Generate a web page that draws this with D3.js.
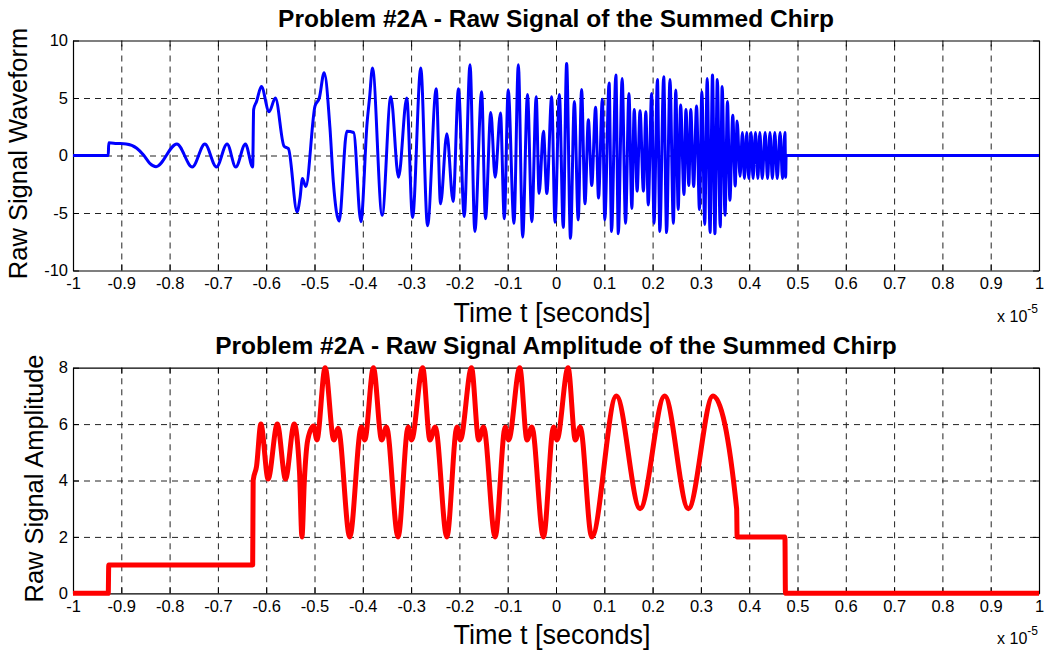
<!DOCTYPE html>
<html>
<head>
<meta charset="utf-8">
<script src="https://cdn.jsdelivr.net/npm/d3@7"></script>
<style>
  body { margin: 0; background: #fff; }
  svg { display: block; }
  text { font-family: "Liberation Sans", Arial, Helvetica, sans-serif; fill: #000; }
</style>
</head>
<body>
<svg id="fig" width="1044" height="651"></svg>
<script>
// ---- tick values and labels (time axis in units of 1e-5 s) ----
const timeTicks = [-1, -0.9, -0.8, -0.7, -0.6, -0.5, -0.4, -0.3, -0.2, -0.1, 0, 0.1, 0.2, 0.3, 0.4, 0.5, 0.6, 0.7, 0.8, 0.9, 1];
const timeTickLabels = ["-1", "-0.9", "-0.8", "-0.7", "-0.6", "-0.5", "-0.4", "-0.3", "-0.2", "-0.1", "0", "0.1", "0.2", "0.3", "0.4", "0.5", "0.6", "0.7", "0.8", "0.9", "1"];
const waveTicks = [-10, -5, 0, 5, 10];
const waveTickLabels = ["-10", "-5", "0", "5", "10"];
const ampTicks = [0, 2, 4, 6, 8];
const ampTickLabels = ["0", "2", "4", "6", "8"];

// ---- summed chirp waveform: [time, value] at turning points ----
const waveLead = [
  [-1, 0], [-0.927, 0], [-0.926, 1.1], [-0.91, 1.05], [-0.89, 1.0], [-0.868, 0.63], [-0.854, 0.04],
  [-0.841, -0.68], [-0.828, -0.97], [-0.785, 1.0], [-0.753, -1.0], [-0.727, 1.0], [-0.703, -1.0],
  [-0.681, 1.0], [-0.663, -1.0], [-0.643, 1.0], [-0.628, -1.0]
];
const waveBurst = [
  [-0.626, 4.0], [-0.620, 4.7], [-0.610, 6.0], [-0.594, 3.8], [-0.581, 5.0], [-0.563, 0.8], [-0.554, 0.6],
  [-0.536, -4.9], [-0.530, -3.7], [-0.525, -2.0], [-0.518, -2.7], [-0.499, 4.3], [-0.490, 5.0], [-0.480, 7.2],
  [-0.468, 2.4], [-0.461, -2.3], [-0.449, -5.7], [-0.433, 2.1], [-0.419, 2.0], [-0.404, -5.75], [-0.391, 2.9],
  [-0.386, 5.0], [-0.380, 7.6], [-0.360, -5.2], [-0.342, 5.1], [-0.326, -1.9], [-0.309, 5.0], [-0.297, -5.4],
  [-0.280, 7.6], [-0.266, -6.1], [-0.248, 5.8], [-0.239, -4.2], [-0.226, 1.9], [-0.213, -4.0], [-0.202, 5.8],
  [-0.190, -5.3], [-0.178, 7.9], [-0.168, -6.6], [-0.154, 5.55], [-0.146, -5.5], [-0.135, 3.75], [-0.126, -1.9],
  [-0.115, 3.7], [-0.107, -5.5], [-0.099, 5.7], [-0.087, -5.9], [-0.078, 7.9], [-0.069, -7.1], [-0.059, 5.3],
  [-0.050, -5.75], [-0.041, 5.1], [-0.035, -3.3], [-0.026, 2.1], [-0.019, -3.3], [-0.009, 5.1], [-0.002, -5.8],
  [0.007, 5.3], [0.015, -6.25], [0.022, 8.0], [0.030, -7.2], [0.038, 4.7], [0.046, -5.6], [0.053, 5.75],
  [0.060, -4.2], [0.067, 3.1], [0.074, -2.6], [0.082, 4.2], [0.088, -3.7], [0.096, 4.9], [0.101, -5.6],
  [0.110, 6.3], [0.115, -6.6], [0.124, 7.0], [0.129, -6.8], [0.137, 6.7], [0.144, -5.9], [0.151, 5.4],
  [0.157, -4.6], [0.162, 4.0], [0.168, -3.1], [0.174, 3.9], [0.181, -3.1], [0.186, 3.8], [0.191, -4.3],
  [0.198, 5.4], [0.203, -5.9], [0.210, 6.6], [0.215, -6.6], [0.223, 6.85], [0.229, -6.7], [0.236, 6.6],
  [0.243, -5.9], [0.248, 5.7], [0.253, -4.7], [0.258, 4.4], [0.265, -3.4], [0.269, 4.0], [0.275, -2.6],
  [0.279, 4.0], [0.285, -2.7], [0.291, 4.3], [0.297, -4.7], [0.302, 5.55], [0.308, -6.0], [0.313, 6.7],
  [0.319, -6.7], [0.324, 7.0], [0.329, -6.8], [0.334, 6.6], [0.340, -6.2], [0.344, 6.0], [0.350, -5.2],
  [0.355, 4.7], [0.360, -3.9], [0.366, 3.5], [0.371, -2.65], [0.375, 3.0], [0.381, -1.8]
];
const waveTail = [
  [0.386, 2.0], [0.390, -2.0], [0.395, 2.0], [0.399, -2.0], [0.404, 2.0], [0.408, -2.0], [0.413, 2.0],
  [0.418, -2.0], [0.422, 2.0], [0.427, -2.0], [0.433, 2.0], [0.438, -2.0], [0.443, 2.0], [0.448, -2.0],
  [0.453, 2.0], [0.458, -2.0], [0.464, 2.0], [0.469, -2.0], [0.474, 2.0], [0.4755, -1.9], [0.4765, 0], [1, 0]
];

// ---- amplitude of the summed chirp: [time, amplitude] ----
const ampLead = [[-1, 0], [-0.927, 0], [-0.926, 1], [-0.628, 1], [-0.627, 4.0]];
const ampBeats = [
  [-0.620, 4.5], [-0.611, 6.0], [-0.596, 4.05], [-0.577, 6.0], [-0.560, 4.05], [-0.542, 6.0], [-0.531, 4.3],
  [-0.526, 2.0], [-0.521, 4.0], [-0.514, 5.44], [-0.502, 5.93], [-0.495, 5.44], [-0.478, 8.0], [-0.460, 5.44],
  [-0.451, 5.85], [-0.427, 2.0], [-0.403, 5.9], [-0.396, 5.44], [-0.378, 8.0], [-0.361, 5.44], [-0.351, 5.9],
  [-0.327, 2.0], [-0.306, 5.9], [-0.299, 5.44], [-0.276, 8.0], [-0.261, 5.44], [-0.250, 5.9], [-0.226, 2.0],
  [-0.205, 5.9], [-0.198, 5.44], [-0.175, 8.0], [-0.160, 5.44], [-0.150, 5.9], [-0.126, 2.0], [-0.105, 5.9],
  [-0.098, 5.44], [-0.075, 8.0], [-0.060, 5.44], [-0.050, 5.9], [-0.026, 2.0], [-0.005, 5.9], [0.002, 5.44],
  [0.025, 8.0], [0.040, 5.44], [0.050, 5.9], [0.074, 2.0]
];
const ampSwell = [
  [0.125, 7.0], [0.174, 3.0], [0.225, 7.0], [0.274, 3.0], [0.325, 7.0], [0.374, 3.0], [0.375, 2.0],
  [0.474, 2.0], [0.475, 0], [1, 0]
];

// ---- figure layout ----
const svg = d3.select("#fig");
const AX_LEFT = 73, AX_RIGHT = 1039;
const FONT = '"Liberation Sans", Arial, Helvetica, sans-serif';

function drawPanel(p) {
  const x = d3.scaleLinear().domain([-1, 1]).range([AX_LEFT, AX_RIGHT]);
  const y = d3.scaleLinear().domain(p.yDomain).range([p.bottom, p.top]);
  const w = AX_RIGHT - AX_LEFT, h = p.bottom - p.top;
  const g = svg.append("g");

  // dashed grid
  const gx = g.append("g").attr("transform", `translate(0,${p.bottom})`)
    .call(d3.axisBottom(x).tickValues(timeTicks.slice(1, -1)).tickSize(-h).tickFormat(""));
  const gy = g.append("g").attr("transform", `translate(${AX_LEFT},0)`)
    .call(d3.axisLeft(y).tickValues(p.yTicks.slice(1, -1)).tickSize(-w).tickFormat(""));
  [gx, gy].forEach(s => {
    s.select(".domain").remove();
    s.selectAll(".tick line").attr("stroke", "#222").attr("stroke-width", 1).attr("stroke-dasharray", "6,5");
  });

  // axes box with inward ticks
  const tickLen = 6;
  const bottomAxis = g.append("g").attr("transform", `translate(0,${p.bottom})`)
    .call(d3.axisBottom(x).tickValues(timeTicks).tickFormat((d, i) => timeTickLabels[i])
      .tickSizeInner(-tickLen).tickSizeOuter(0).tickPadding(7));
  const topAxis = g.append("g").attr("transform", `translate(0,${p.top})`)
    .call(d3.axisTop(x).tickValues(timeTicks).tickFormat("").tickSizeInner(-tickLen).tickSizeOuter(0));
  const leftAxis = g.append("g").attr("transform", `translate(${AX_LEFT},0)`)
    .call(d3.axisLeft(y).tickValues(p.yTicks).tickFormat((d, i) => p.yTickLabels[i])
      .tickSizeInner(-tickLen).tickSizeOuter(0).tickPadding(5));
  const rightAxis = g.append("g").attr("transform", `translate(${AX_RIGHT},0)`)
    .call(d3.axisRight(y).tickValues(p.yTicks).tickFormat("").tickSizeInner(-tickLen).tickSizeOuter(0));
  [bottomAxis, topAxis, leftAxis, rightAxis].forEach(s => {
    s.attr("font-family", FONT).attr("font-size", 16.5);
    s.selectAll("path.domain").attr("stroke", "#000").attr("stroke-width", 1.2);
    s.selectAll(".tick line").attr("stroke", "#000").attr("stroke-width", 1);
    s.selectAll(".tick text").attr("fill", "#000");
  });

  // signal trace
  const line = d3.line().x(d => x(d[0])).y(d => y(d[1])).curve(d3.curveMonotoneX);
  g.append("path").datum(p.series)
    .attr("d", line).attr("fill", "none")
    .attr("stroke", p.color).attr("stroke-width", p.lineWidth)
    .attr("stroke-linejoin", "round").attr("stroke-linecap", "butt");

  // titles and labels
  const cx = (AX_LEFT + AX_RIGHT) / 2;
  g.append("text").attr("x", cx).attr("y", p.top - 14).attr("text-anchor", "middle")
    .attr("font-weight", "bold").attr("font-size", 24.5).text(p.title);
  g.append("text").attr("x", cx - 4).attr("y", p.bottom + 51).attr("text-anchor", "middle")
    .attr("font-size", 27).text("Time t [seconds]");
  g.append("text").attr("transform", `translate(${p.yLabelX},${(p.top + p.bottom) / 2 - 2}) rotate(-90)`)
    .attr("text-anchor", "middle").attr("font-size", 25.5).text(p.yLabel);
  const expo = g.append("text").attr("x", 1038).attr("y", p.bottom + 51)
    .attr("text-anchor", "end").attr("font-size", 16);
  expo.append("tspan").text("x 10");
  expo.append("tspan").attr("font-size", 12).attr("dy", -9).text("-5");
}

drawPanel({
  top: 40.5, bottom: 270.5, yDomain: [-10, 10], yTicks: waveTicks, yTickLabels: waveTickLabels,
  series: waveLead.concat(waveBurst, waveTail), color: "#0000ff", lineWidth: 3,
  title: "Problem #2A - Raw Signal of the Summed Chirp", yLabel: "Raw Signal Waveform", yLabelX: 27
});
drawPanel({
  top: 367.7, bottom: 593.3, yDomain: [0, 8], yTicks: ampTicks, yTickLabels: ampTickLabels,
  series: ampLead.concat(ampBeats, ampSwell), color: "#ff0000", lineWidth: 5,
  title: "Problem #2A - Raw Signal Amplitude of the Summed Chirp", yLabel: "Raw Signal Amplitude", yLabelX: 43
});
</script>
</body>
</html>
